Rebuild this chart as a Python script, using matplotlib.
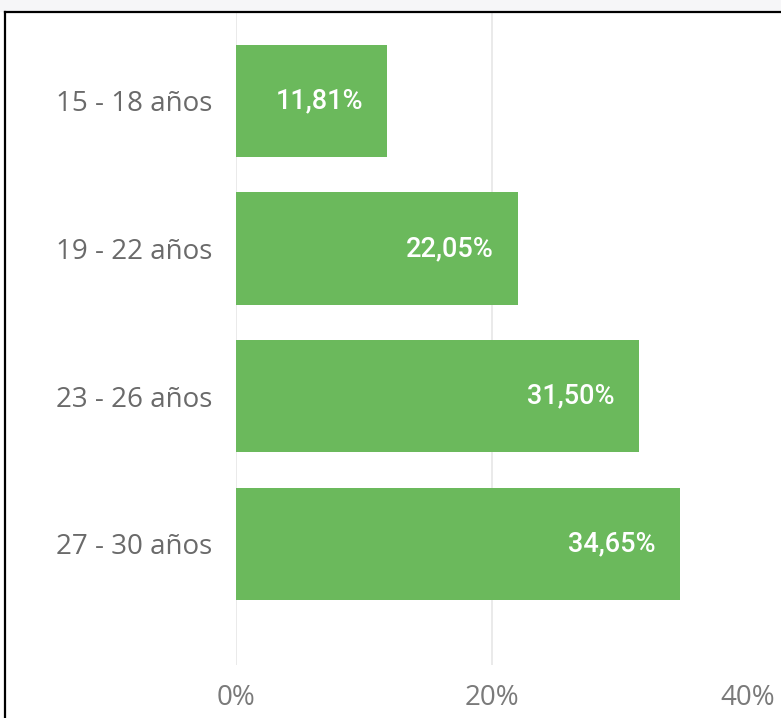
import matplotlib.pyplot as plt
from matplotlib.lines import Line2D

categories = ['15 - 18 años', '19 - 22 años', '23 - 26 años', '27 - 30 años']
values = [11.81, 22.05, 31.50, 34.65]
value_labels = ['11,81%', '22,05%', '31,50%', '34,65%']
x_ticks = [0, 20, 40]
x_tick_labels = ['0%', '20%', '40%']

bar_color = '#6bb95c'

fig = plt.figure(figsize=(7.81, 7.18), dpi=100)
ax = fig.add_axes([236 / 781, 53 / 718, 512 / 781, 653 / 718])

pos = range(len(categories))
ax.barh(pos, values, height=0.76, color=bar_color, zorder=2)

for y, v, lab in zip(pos, values, value_labels):
    ax.text(v - 1.9, y, lab, ha='right', va='center', color='white',
            fontsize=19.5, fontweight='medium', family='Roboto', zorder=3)

ax.set_xlim(0, 40)
ax.set_ylim(3.82, -0.60)
ax.set_yticks(list(pos))
ax.set_yticklabels(categories, fontsize=20, color='#6a6a6a', family='Open Sans')
ax.set_xticks(x_ticks)
ax.set_xticklabels(x_tick_labels, fontsize=20, color='#7a7a7a', family='Open Sans')
ax.tick_params(axis='both', length=0)
ax.tick_params(axis='y', pad=17)
ax.tick_params(axis='x', pad=14)

ax.grid(axis='x', color='#e6e6e6', linewidth=1.2, zorder=0)
ax.get_xgridlines()[-1].set_visible(False)
for s in ax.spines.values():
    s.set_visible(False)

# frame around the panel (top and left edges only are in view)
fig.add_artist(Line2D([5 / 781, 1], [706 / 718, 706 / 718], color='black', lw=1.6))
fig.add_artist(Line2D([5 / 781, 5 / 781], [0, 706 / 718], color='black', lw=1.6))
fig.patches.append(plt.Rectangle((0, 706 / 718), 1, 12 / 718, transform=fig.transFigure,
                                 facecolor='#f6f6f8', edgecolor='none', zorder=-1))

fig.savefig('out.png', dpi=100)
